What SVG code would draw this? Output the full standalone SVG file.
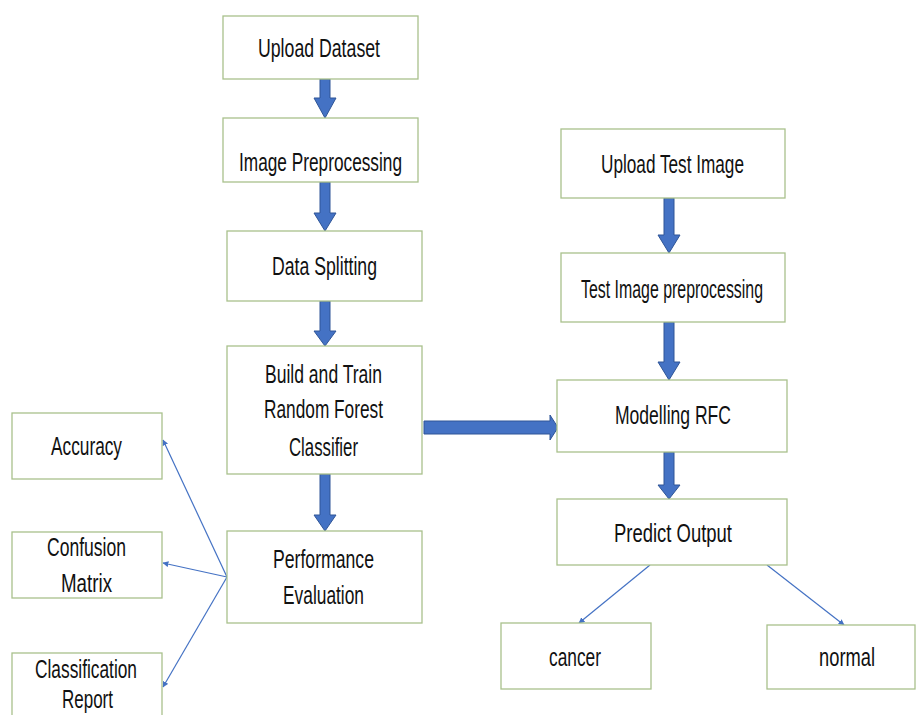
<svg xmlns="http://www.w3.org/2000/svg" width="916" height="715" viewBox="0 0 916 715">
<defs>
<style>
.box{fill:#fff;stroke:#A9C18C;stroke-width:1.3}
.t{font-family:"Liberation Sans",Arial,sans-serif;font-size:26px;fill:#111}
.blk{fill:#4472C4;stroke:#2F5597;stroke-width:1}
.thin{stroke:#4472C4;stroke-width:1.2;fill:none;marker-end:url(#ah)}
</style>
<marker id="ah" viewBox="0 0 10 10" refX="9" refY="5" markerWidth="6" markerHeight="6" orient="auto" markerUnits="userSpaceOnUse">
<path d="M0,0 L10,5 L0,10 z" fill="#4472C4"/>
</marker>
</defs>
<rect width="916" height="715" fill="#fff"/>
<g id="connectors">
<polygon class="blk" points="320,79 330,79 330,98 336,98 325,118 314,98 320,98"/>
<polygon class="blk" points="320,182 330,182 330,213 336,213 325,231 314,213 320,213"/>
<polygon class="blk" points="320,301 330,301 330,331 336,331 325,346 314,331 320,331"/>
<polygon class="blk" points="320,474 330,474 330,515 336,515 325,531 314,515 320,515"/>
<polygon class="blk" points="664,198 674,198 674,235 680,235 669,253 658,235 664,235"/>
<polygon class="blk" points="664,322 674,322 674,362 680,362 669,380 658,362 664,362"/>
<polygon class="blk" points="664,452 674,452 674,485 680,485 669,499 658,485 664,485"/>
<polygon class="blk" points="424,421 550,421 550,415 558,427.5 550,440 550,434 424,434"/>
<line class="thin" x1="227" y1="577" x2="163" y2="440"/>
<line class="thin" x1="227" y1="577" x2="163" y2="563"/>
<line class="thin" x1="227" y1="577" x2="163" y2="687"/>
<line class="thin" x1="650" y1="565" x2="579" y2="623"/>
<line class="thin" x1="767" y1="565" x2="844" y2="625"/>
</g>
<g id="upload-dataset">
<rect class="box" x="223" y="16" width="195" height="63"/>
<text class="t" x="258" y="57" textLength="122" lengthAdjust="spacingAndGlyphs">Upload Dataset</text>
</g>
<g id="image-preprocessing">
<rect class="box" x="223" y="118" width="195" height="64"/>
<text class="t" x="239" y="171" textLength="163" lengthAdjust="spacingAndGlyphs">Image Preprocessing</text>
</g>
<g id="data-splitting">
<rect class="box" x="227" y="231" width="195" height="70"/>
<text class="t" x="272" y="275" textLength="105" lengthAdjust="spacingAndGlyphs">Data Splitting</text>
</g>
<g id="build-train">
<rect class="box" x="227" y="346" width="195" height="128"/>
<text class="t" x="265" y="383" textLength="117" lengthAdjust="spacingAndGlyphs">Build and Train</text>
<text class="t" x="264" y="418" textLength="119" lengthAdjust="spacingAndGlyphs">Random Forest</text>
<text class="t" x="289" y="456" textLength="69" lengthAdjust="spacingAndGlyphs">Classifier</text>
</g>
<g id="performance-evaluation">
<rect class="box" x="227" y="531" width="195" height="92"/>
<text class="t" x="273" y="568" textLength="101" lengthAdjust="spacingAndGlyphs">Performance</text>
<text class="t" x="283" y="604" textLength="81" lengthAdjust="spacingAndGlyphs">Evaluation</text>
</g>
<g id="accuracy">
<rect class="box" x="12" y="413" width="150" height="66"/>
<text class="t" x="51" y="455" textLength="71" lengthAdjust="spacingAndGlyphs">Accuracy</text>
</g>
<g id="confusion-matrix">
<rect class="box" x="12" y="532" width="150" height="66"/>
<text class="t" x="47" y="556" textLength="79" lengthAdjust="spacingAndGlyphs">Confusion</text>
<text class="t" x="61" y="592" textLength="51" lengthAdjust="spacingAndGlyphs">Matrix</text>
</g>
<g id="classification-report">
<rect class="box" x="12" y="653" width="150" height="80"/>
<text class="t" x="35" y="678" textLength="102" lengthAdjust="spacingAndGlyphs">Classification</text>
<text class="t" x="62" y="708" textLength="51" lengthAdjust="spacingAndGlyphs">Report</text>
</g>
<g id="upload-test-image">
<rect class="box" x="561" y="129" width="224" height="69"/>
<text class="t" x="601" y="173" textLength="143" lengthAdjust="spacingAndGlyphs">Upload Test Image</text>
</g>
<g id="test-image-preprocessing">
<rect class="box" x="561" y="253" width="224" height="69"/>
<text class="t" x="581" y="298" textLength="182" lengthAdjust="spacingAndGlyphs">Test Image preprocessing</text>
</g>
<g id="modelling-rfc">
<rect class="box" x="557" y="380" width="230" height="72"/>
<text class="t" x="615" y="424" textLength="116" lengthAdjust="spacingAndGlyphs">Modelling RFC</text>
</g>
<g id="predict-output">
<rect class="box" x="557" y="499" width="230" height="66"/>
<text class="t" x="614" y="542" textLength="118" lengthAdjust="spacingAndGlyphs">Predict Output</text>
</g>
<g id="cancer">
<rect class="box" x="501" y="623" width="150" height="66"/>
<text class="t" x="549" y="666" textLength="52" lengthAdjust="spacingAndGlyphs">cancer</text>
</g>
<g id="normal">
<rect class="box" x="767" y="625" width="148" height="64"/>
<text class="t" x="819" y="666" textLength="56" lengthAdjust="spacingAndGlyphs">normal</text>
</g>
</svg>
